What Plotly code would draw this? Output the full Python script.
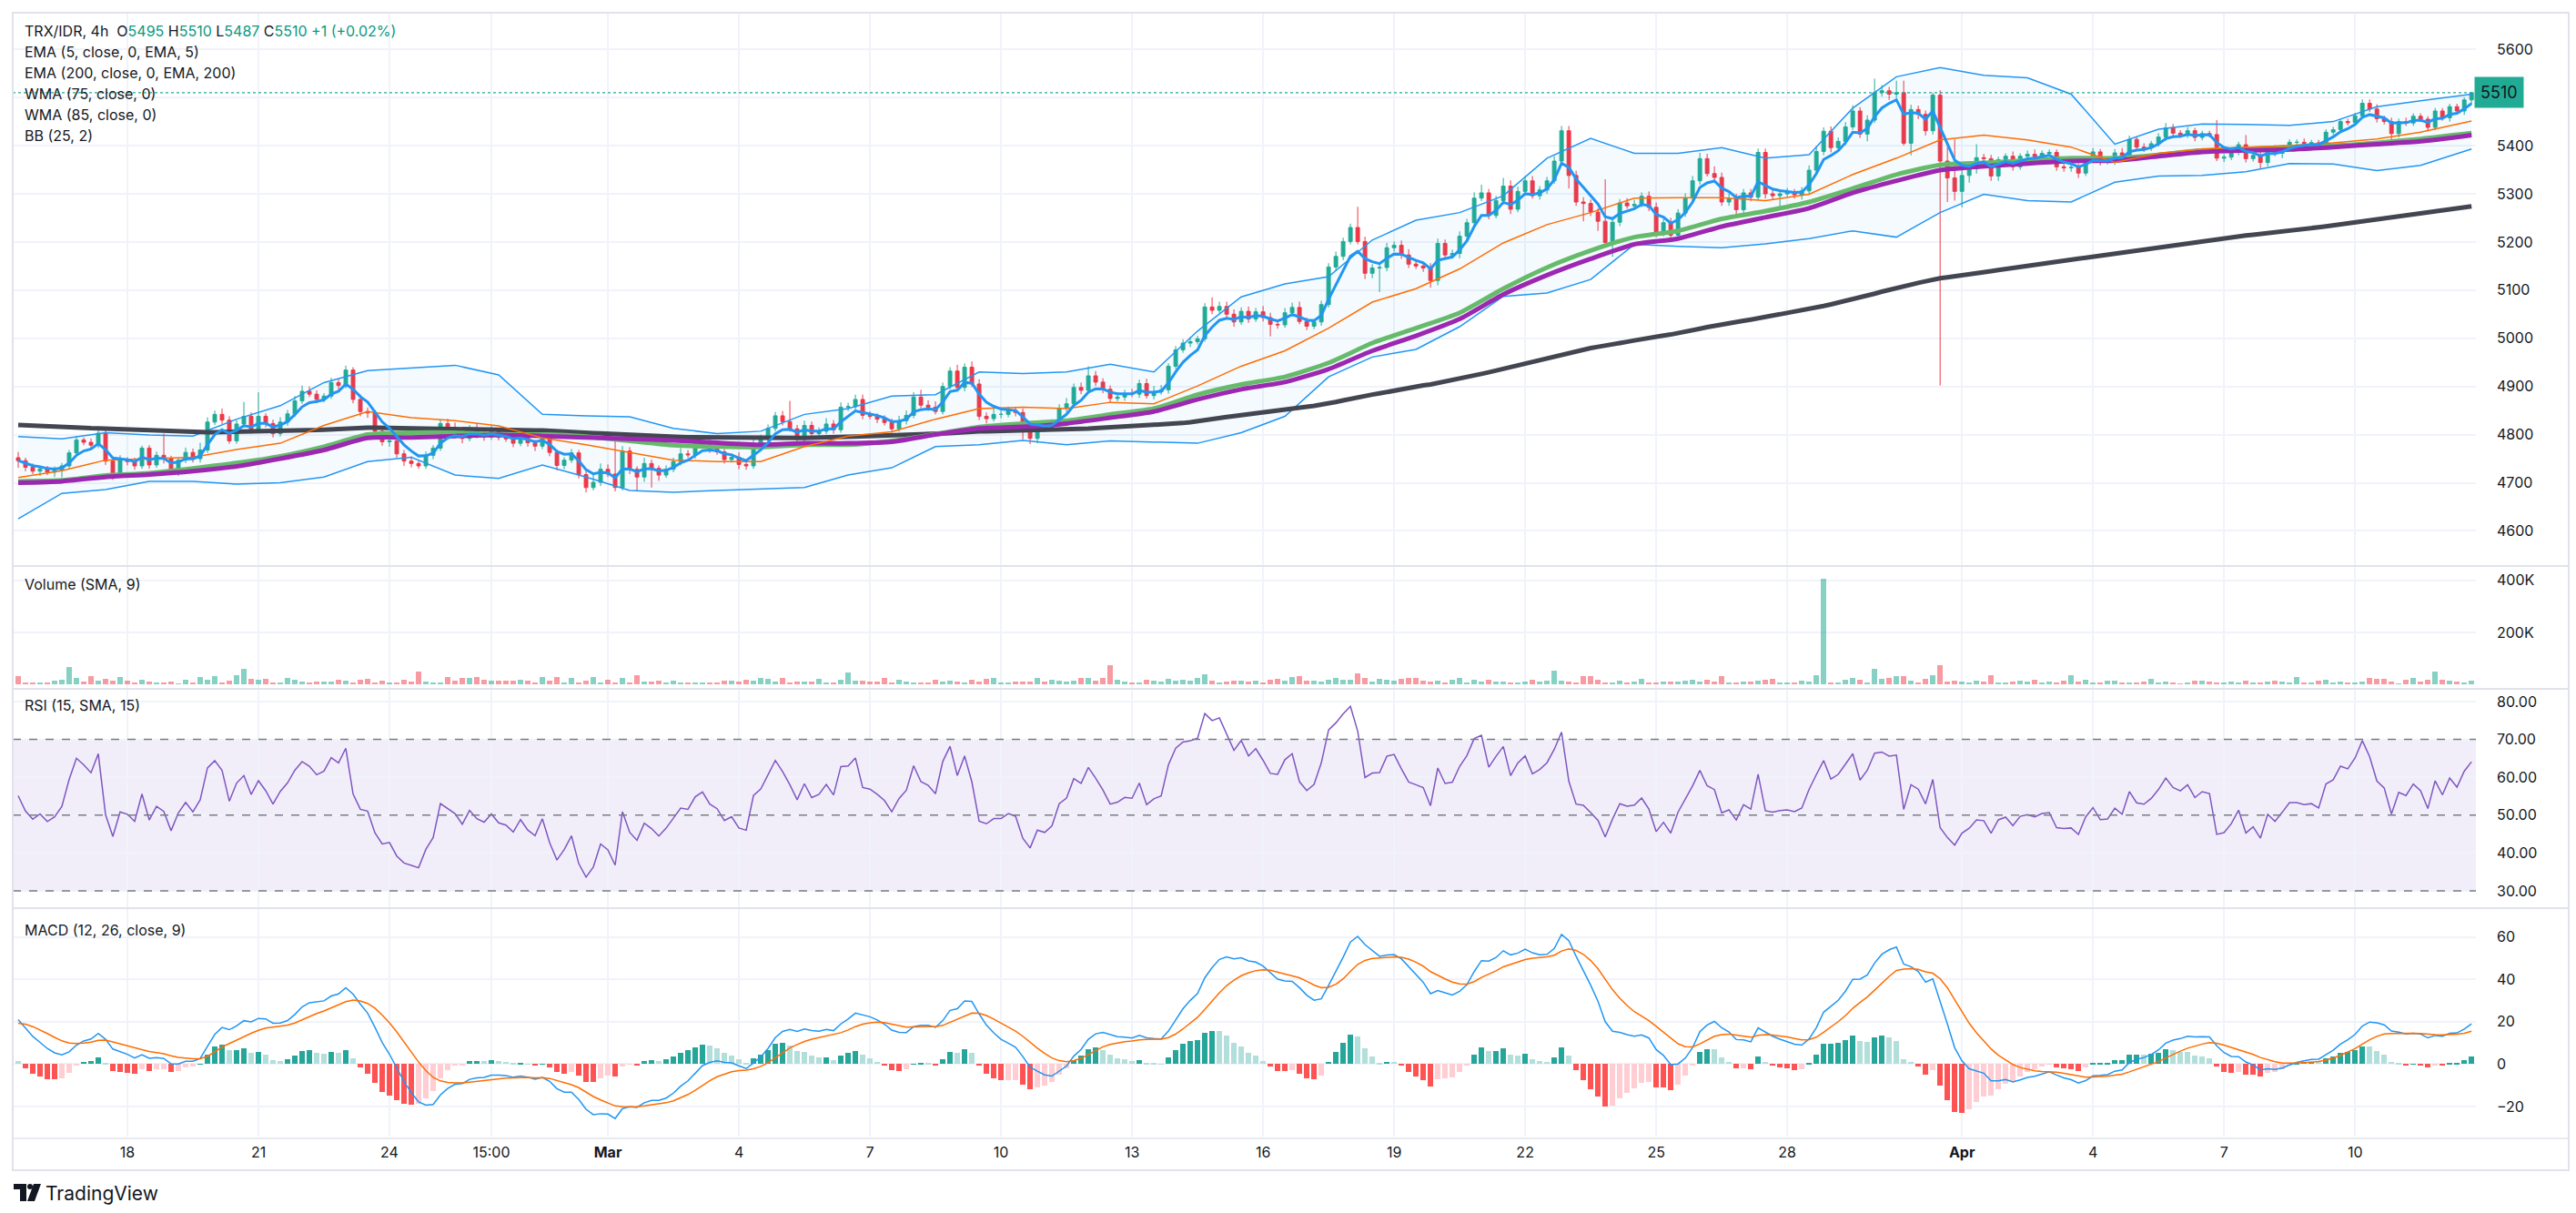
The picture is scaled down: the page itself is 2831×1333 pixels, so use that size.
import numpy as np
import plotly.graph_objects as go

# ---------------- values ----------------
TICK_IDX = [15, 33, 51, 65, 81, 99, 117, 135, 153, 171, 189, 207, 225, 243, 267, 285, 303, 321]
TICK_TEXT = ["18", "21", "24", "15:00", "<b>Mar</b>", "4", "7", "10", "13", "16",
             "19", "22", "25", "28", "<b>Apr</b>", "4", "7", "10"]
PRICE_TICKS = [4600, 4700, 4800, 4900, 5000, 5100, 5200, 5300, 5400, 5500, 5600]
PRICE_TICK_TEXT = ["4600", "4700", "4800", "4900", "5000", "5100", "5200", "5300", "5400", "", "5600"]

OPEN_FIRST = 4752
CLOSE = [
    4746, 4732, 4724, 4729, 4722, 4726, 4735, 4762, 4789, 4784,
    4778, 4803, 4745, 4716, 4747, 4744, 4735, 4772, 4737, 4757,
    4750, 4722, 4747, 4763, 4750, 4768, 4826, 4842, 4830, 4787,
    4822, 4838, 4810, 4838, 4823, 4802, 4826, 4843, 4870, 4890,
    4884, 4873, 4880, 4908, 4902, 4934, 4873, 4848, 4845, 4807,
    4785, 4787, 4760, 4745, 4740, 4735, 4757, 4772, 4823, 4815,
    4808, 4792, 4812, 4800, 4795, 4806, 4794, 4791, 4782, 4796,
    4783, 4776, 4794, 4763, 4736, 4747, 4762, 4717, 4690, 4701,
    4728, 4718, 4690, 4766, 4728, 4712, 4740, 4730, 4716, 4728,
    4744, 4760, 4758, 4778, 4786, 4770, 4764, 4748, 4753, 4738,
    4735, 4780, 4790, 4813, 4839, 4827, 4812, 4794, 4819, 4802,
    4807, 4822, 4810, 4857, 4858, 4873, 4840, 4838, 4832, 4825,
    4812, 4829, 4840, 4878, 4861, 4857, 4848, 4900, 4932, 4898,
    4940, 4905, 4838, 4833, 4842, 4842, 4850, 4846, 4810, 4792,
    4817, 4813, 4822, 4855, 4864, 4898, 4892, 4922, 4909, 4894,
    4875, 4878, 4885, 4884, 4906, 4881, 4889, 4893, 4942, 4976,
    4990, 4993, 4999, 5065, 5058, 5066, 5050, 5034, 5056, 5040,
    5055, 5043, 5029, 5028, 5053, 5064, 5035, 5025, 5034, 5070,
    5148, 5170, 5201, 5230, 5201, 5135, 5146, 5147, 5188, 5193,
    5173, 5154, 5150, 5146, 5120, 5197, 5173, 5176, 5212, 5240,
    5291, 5302, 5255, 5286, 5316, 5268, 5305, 5327, 5296, 5308,
    5327, 5368, 5431, 5338, 5283, 5280, 5262, 5243, 5199, 5241,
    5281, 5275, 5278, 5295, 5272, 5220, 5240, 5214, 5260, 5291,
    5327, 5373, 5342, 5334, 5283, 5290, 5267, 5302, 5293, 5386,
    5300, 5296, 5300, 5302, 5298, 5306, 5349, 5388, 5430, 5396,
    5409, 5439, 5472, 5424, 5453, 5510, 5514, 5507, 5510, 5405,
    5475, 5465, 5431, 5505, 5368, 5333, 5305, 5338, 5352, 5375,
    5373, 5337, 5371, 5378, 5356, 5378, 5382, 5377, 5384, 5386,
    5356, 5354, 5355, 5343, 5371, 5387, 5367, 5368, 5385, 5376,
    5413, 5397, 5395, 5404, 5418, 5437, 5426, 5422, 5431, 5417,
    5425, 5423, 5374, 5376, 5386, 5402, 5373, 5380, 5365, 5393,
    5384, 5395, 5407, 5407, 5405, 5406, 5402, 5428, 5433, 5450,
    5448, 5462, 5488, 5476, 5456, 5450, 5425, 5450, 5447, 5461,
    5455, 5438, 5472, 5458, 5481, 5472, 5495, 5510,
]
UPPER_WICK = [
    12, 6, 8, 5, 6, 8, 6, 6, 8, 5,  8, 6, 6, 8, 10, 6, 8, 5, 6, 8,
    45, 6, 5, 10, 8, 15, 10, 8, 12, 8,  8, 30, 8, 50, 6, 8, 10, 8, 10, 12,
    10, 8, 6, 10, 8, 9, 6, 10, 8, 6,  6, 10, 6, 8, 10, 6, 8, 6, 8, 10,
    10, 8, 8, 12, 8, 12, 8, 10, 6, 8,  8, 6, 10, 8, 6, 6, 8, 6, 8, 20,
    12, 10, 73, 10, 8, 6, 12, 8, 6, 8,  8, 12, 8, 10, 8, 10, 8, 6, 8, 10,
    6, 15, 10, 8, 8, 10, 43, 8, 10, 8,  8, 12, 8, 10, 8, 10, 10, 8, 6, 8,
    8, 10, 10, 10, 15, 10, 12, 8, 8, 13,  8, 12, 10, 8, 12, 8, 8, 6, 8, 8,
    8, 8, 10, 8, 12, 8, 10, 20, 10, 8,  8, 10, 8, 10, 8, 10, 12, 10, 6, 8,
    8, 10, 6, 8, 20, 10, 10, 10, 8, 10,  8, 12, 10, 10, 10, 10, 12, 8, 6, 8,
    8, 10, 8, 8, 43, 10, 8, 10, 10, 8,  10, 12, 10, 8, 10, 10, 8, 8, 10, 8,
    12, 17, 8, 10, 17, 12, 10, 10, 10, 8,  8, 10, 10, 10, 10, 10, 8, 8, 87, 10,
    8, 10, 10, 8, 10, 10, 8, 10, 8, 10,  10, 12, 10, 15, 10, 10, 10, 8, 8, 8,
    8, 10, 8, 10, 8, 8, 10, 10, 8, 10,  8, 10, 12, 8, 10, 29, 12, 8, 25, 25,
    10, 8, 8, 5, 10, 30, 80, 12, 10, 28,  8, 8, 6, 6, 10, 6, 8, 10, 6, 6,
    6, 8, 8, 8, 6, 8, 6, 8, 8, 10,  8, 6, 8, 6, 8, 10, 8, 6, 8, 6,
    6, 6, 30, 6, 8, 6, 20, 6, 8, 6,  8, 6, 6, 6, 8, 6, 6, 6, 6, 6,
    6, 6, 8, 8, 10, 6, 8, 6, 8, 6,  6, 6, 6, 6, 6, 6, 5, 0,
]
LOWER_WICK = [
    15, 8, 6, 10, 6, 10, 15, 6, 6, 6,  8, 6, 8, 10, 6, 8, 8, 6, 8, 6,
    10, 6, 8, 6, 8, 8, 6, 6, 8, 6,  6, 8, 8, 6, 8, 8, 6, 8, 6, 6,
    6, 8, 6, 6, 8, 6, 8, 10, 10, 8,  8, 10, 8, 10, 8, 6, 6, 8, 6, 8,
    6, 10, 6, 8, 8, 6, 6, 6, 8, 6,  8, 10, 6, 8, 10, 8, 6, 8, 10, 6,
    8, 6, 8, 6, 10, 30, 10, 40, 12, 6,  6, 8, 6, 8, 6, 8, 6, 8, 6, 10,
    8, 6, 6, 8, 6, 8, 6, 8, 8, 6,  8, 6, 8, 6, 8, 6, 8, 6, 8, 6,
    8, 6, 8, 6, 6, 8, 6, 6, 6, 6,  8, 6, 8, 10, 6, 8, 6, 8, 20, 12,
    10, 8, 6, 6, 8, 6, 8, 6, 8, 8,  8, 6, 8, 6, 8, 6, 8, 6, 8, 6,
    6, 8, 6, 6, 8, 6, 8, 10, 6, 8,  6, 8, 25, 8, 6, 8, 6, 8, 6, 8,
    6, 8, 8, 6, 6, 12, 10, 50, 8, 8,  8, 8, 6, 8, 15, 10, 6, 8, 10, 8,
    8, 6, 8, 6, 8, 10, 6, 8, 6, 8,  8, 6, 8, 27, 8, 37, 8, 20, 4, 30,
    8, 6, 8, 6, 8, 10, 8, 8, 8, 8,  6, 8, 6, 8, 8, 8, 10, 8, 8, 6,
    10, 8, 30, 6, 8, 10, 8, 6, 8, 10,  8, 8, 6, 8, 15, 6, 8, 12, 8, 5,
    25, 10, 10, 8, 466, 50, 19, 33, 15, 10,  8, 10, 10, 6, 8, 6, 6, 8, 6, 6,
    8, 8, 8, 10, 6, 6, 8, 6, 8, 6,  8, 6, 8, 6, 6, 8, 6, 6, 6, 8,
    6, 6, 6, 8, 6, 6, 8, 6, 13, 8,  6, 10, 6, 6, 6, 6, 6, 6, 6, 6,
    6, 6, 6, 6, 8, 6, 13, 8, 6, 6,  6, 8, 6, 6, 8, 6, 8, 8,
]
VOLUME_K = [
    30, 6, 6, 6, 6, 13, 17, 68, 23, 9,  30, 15, 20, 13, 27, 13, 6, 16, 9, 6,
    6, 9, 2, 16, 6, 27, 16, 30, 6, 13,  34, 58, 20, 16, 20, 6, 6, 23, 16, 9,
    6, 9, 9, 9, 16, 13, 6, 16, 20, 6,  13, 6, 6, 16, 9, 48, 9, 6, 6, 27,
    13, 23, 23, 27, 16, 13, 13, 13, 13, 16,  13, 6, 27, 13, 27, 6, 23, 6, 13, 27,
    6, 16, 6, 23, 6, 34, 9, 9, 13, 6,  13, 6, 6, 6, 6, 6, 6, 13, 13, 9,
    16, 13, 23, 20, 9, 23, 6, 9, 9, 9,  20, 6, 6, 16, 44, 13, 13, 9, 9, 23,
    6, 16, 9, 6, 6, 6, 16, 9, 13, 9,  6, 16, 9, 20, 23, 6, 6, 9, 9, 9,
    23, 9, 16, 13, 9, 13, 23, 23, 13, 23,  72, 16, 9, 6, 6, 16, 13, 9, 20, 13,
    16, 13, 23, 37, 13, 6, 9, 13, 13, 9,  13, 6, 16,
    20, 13, 27, 30, 13, 13, 9, 16, 23, 16,  16, 41, 23, 9, 20, 16, 13, 20, 23, 23,
    13, 9, 13, 6, 16, 23, 6, 16, 9, 16,  9, 9, 6, 6, 9, 16, 9, 13, 52, 13,
    9, 6, 30, 30, 16, 6, 6, 13, 6, 9,  20, 6, 6, 9, 9, 9, 13, 16, 9, 16,
    9, 30, 6, 6, 9, 9, 13, 16, 20, 6,  6, 6, 13, 9, 34, 405, 6, 6, 16, 23,
    16, 6, 58, 20, 23, 30, 30, 13, 6, 20,  34, 72, 9, 13, 9, 6, 13, 9, 34, 6,
    6, 9, 13, 9, 16, 6, 9, 6, 13, 34,  9, 16, 6, 6, 13, 13, 6, 6, 6, 9,
    20, 6, 9, 6, 2, 6, 13, 13, 9, 6,  6, 9, 6, 13, 6, 6, 9, 13, 9, 6,
    27, 6, 6, 13, 16, 6, 9, 6, 6, 9,  23, 20, 20, 9, 2, 16, 23, 9, 16, 48,
    16, 13, 9, 6, 13,
]

# indicator lines read once per day (bar index of each sample)
SAMPLE_IDX = [0, 6, 12, 18, 24, 30, 36, 42, 48, 54, 60, 66, 72, 78, 84, 90, 96, 102, 108, 114,
              120, 126, 132, 138, 144, 150, 156, 162, 168, 174, 180, 186, 192, 198, 204, 210,
              216, 222, 228, 234, 240, 246, 252, 258, 264, 270, 276, 282, 288, 294, 300, 306,
              312, 318, 324, 330, 337]
BB_UPPER = [4796, 4791, 4804, 4799, 4797, 4832, 4860, 4908, 4933, 4939, 4944, 4924, 4842, 4839,
            4837, 4813, 4802, 4807, 4842, 4854, 4880, 4883, 4930, 4927, 4930, 4946, 4930, 5015,
            5086, 5113, 5128, 5204, 5245, 5261, 5296, 5374, 5415, 5384, 5384, 5396, 5374, 5381,
            5478, 5543, 5562, 5546, 5541, 5507, 5403, 5434, 5445, 5444, 5442, 5450, 5481, 5493, 5507]
BB_BASIS = [4711, 4725, 4747, 4750, 4753, 4769, 4782, 4819, 4848, 4835, 4829, 4818, 4793, 4779,
            4763, 4747, 4744, 4744, 4775, 4797, 4806, 4832, 4854, 4857, 4854, 4867, 4864, 4901,
            4942, 4974, 5021, 5075, 5103, 5144, 5198, 5236, 5261, 5291, 5292, 5292, 5286, 5299,
            5340, 5374, 5412, 5422, 5412, 5397, 5365, 5384, 5393, 5397, 5400, 5406, 5414, 5428, 5451]
BB_LOWER = [4625, 4678, 4686, 4703, 4703, 4697, 4700, 4712, 4744, 4753, 4716, 4709, 4737, 4712,
            4684, 4680, 4684, 4687, 4690, 4716, 4731, 4775, 4779, 4788, 4779, 4787, 4785, 4782,
            4804, 4838, 4920, 4961, 4977, 5024, 5087, 5094, 5122, 5195, 5191, 5188, 5196, 5207,
            5223, 5210, 5261, 5299, 5286, 5283, 5324, 5337, 5338, 5346, 5363, 5362, 5348, 5359, 5393]
WMA75 = [4703, 4705, 4715, 4720, 4730, 4741, 4755, 4775, 4800, 4804, 4804, 4800, 4800, 4796,
         4787, 4778, 4775, 4774, 4779, 4779, 4787, 4801, 4816, 4823, 4829, 4842, 4854, 4883,
         4904, 4920, 4949, 4990, 5021, 5053, 5103, 5147, 5182, 5210, 5223, 5248, 5264, 5283,
         5311, 5340, 5360, 5364, 5369, 5374, 5374, 5381, 5390, 5393, 5397, 5400, 5406, 5414, 5426]
WMA85 = [4700, 4703, 4712, 4717, 4724, 4734, 4750, 4768, 4793, 4794, 4797, 4799, 4797, 4794,
         4791, 4788, 4783, 4779, 4782, 4782, 4785, 4800, 4813, 4816, 4823, 4835, 4848, 4873,
         4894, 4909, 4936, 4974, 5005, 5040, 5091, 5131, 5165, 5195, 5207, 5232, 5251, 5270,
         5302, 5327, 5349, 5357, 5363, 5368, 5369, 5378, 5387, 5390, 5392, 5397, 5403, 5409, 5422]

# starting states of the recursive indicators, read at the left edge
EMA200_START = 4820
EMA12_START, EMA26_START, SIGNAL_START = 4762, 4741, 19.3
RSI_GAIN_START, RSI_LOSS_START = 7.0, 5.7

# ---------------- derived series ----------------
c = np.array(CLOSE, float)
o = np.array([OPEN_FIRST] + CLOSE[:-1], float)   # each 4h candle opens at the prior close
h = np.maximum(o, c) + np.array(UPPER_WICK, float)
l = np.minimum(o, c) - np.array(LOWER_WICK, float)
n = len(c)
idx = np.arange(n)


def ema(src, length, start):
    a = 2.0 / (length + 1)
    out = np.empty(len(src))
    prev = start
    for i, v in enumerate(src):
        if i > 0:
            prev = prev + a * (v - prev)
        out[i] = prev
    return out


ema5 = ema(c, 5, c[0])
ema200 = ema(c, 200, EMA200_START)
macd = ema(c, 12, EMA12_START) - ema(c, 26, EMA26_START)
signal = ema(macd, 9, SIGNAL_START)
hist = macd - signal

rsi = np.empty(n)
ag, al = RSI_GAIN_START, RSI_LOSS_START
for i in range(n):
    if i > 0:
        d = c[i] - c[i - 1]
        ag = (ag * 14 + max(d, 0)) / 15
        al = (al * 14 + max(-d, 0)) / 15
    rsi[i] = 100 - 100 / (1 + ag / al)

GREEN, RED = "#22AB94", "#F23645"
vol_colors = ["rgba(34,171,148,0.55)" if c[i] >= o[i] else "rgba(242,54,69,0.5)" for i in range(n)]
hist_colors = []
for i in range(n):
    prev = hist[i - 1] if i > 0 else hist[i]
    if hist[i] >= 0:
        hist_colors.append("#26A69A" if hist[i] > prev else "#B2DFDB")
    else:
        hist_colors.append("#FF5252" if hist[i] < prev else "#FFCDD2")

# ---------------- figure ----------------
W, H = 2831, 1333
L, R, T, B = 14, 2721, 14, 1249
def PX(x): return (x - L) / (R - L)
def PY(y): return (B - y) / (B - T)

TXT = "#131722"
GRID = "#f0f3fa"
FONT = "Inter, Roboto, sans-serif"

fig = go.Figure()
# Bollinger band fill + lines
fig.add_trace(go.Scatter(x=SAMPLE_IDX, y=BB_UPPER, mode="lines", line=dict(color="#2196F3", width=1.5),
                         xaxis="x", yaxis="y", hoverinfo="skip"))
fig.add_trace(go.Scatter(x=SAMPLE_IDX, y=BB_LOWER, mode="lines", line=dict(color="#2196F3", width=1.5),
                         fill="tonexty", fillcolor="rgba(33,150,243,0.05)", xaxis="x", yaxis="y", hoverinfo="skip"))
fig.add_trace(go.Candlestick(x=idx, open=o, high=h, low=l, close=c,
                             increasing=dict(line=dict(color=GREEN, width=1), fillcolor=GREEN),
                             decreasing=dict(line=dict(color=RED, width=1), fillcolor=RED),
                             whiskerwidth=0, xaxis="x", yaxis="y"))
fig.add_trace(go.Scatter(x=idx, y=ema200, mode="lines", line=dict(color="#434651", width=5), xaxis="x", yaxis="y"))
fig.add_trace(go.Scatter(x=SAMPLE_IDX, y=WMA75, mode="lines", line=dict(color="#66BB6A", width=5, shape="spline", smoothing=0.6),
                         xaxis="x", yaxis="y"))
fig.add_trace(go.Scatter(x=SAMPLE_IDX, y=WMA85, mode="lines", line=dict(color="#9C27B0", width=5, shape="spline", smoothing=0.6),
                         xaxis="x", yaxis="y"))
fig.add_trace(go.Scatter(x=SAMPLE_IDX, y=BB_BASIS, mode="lines", line=dict(color="#FF6D00", width=1.5),
                         xaxis="x", yaxis="y"))
fig.add_trace(go.Scatter(x=idx, y=ema5, mode="lines", line=dict(color="#2196F3", width=3), xaxis="x", yaxis="y"))

# volume
fig.add_trace(go.Bar(x=idx, y=np.array(VOLUME_K) * 1000, marker=dict(color=vol_colors, line=dict(width=0)),
                     width=0.72, xaxis="x2", yaxis="y2"))
# RSI
fig.add_trace(go.Scatter(x=idx, y=rsi, mode="lines", line=dict(color="#7E57C2", width=1.5), xaxis="x3", yaxis="y3"))
# MACD
fig.add_trace(go.Bar(x=idx, y=hist, marker=dict(color=hist_colors, line=dict(width=0)), width=0.72,
                     xaxis="x4", yaxis="y4"))
fig.add_trace(go.Scatter(x=idx, y=macd, mode="lines", line=dict(color="#2196F3", width=1.5), xaxis="x4", yaxis="y4"))
fig.add_trace(go.Scatter(x=idx, y=signal, mode="lines", line=dict(color="#FF6D00", width=1.5), xaxis="x4", yaxis="y4"))

xcommon = dict(range=[-0.75, 337.6], tickvals=TICK_IDX, showgrid=True, gridcolor=GRID, gridwidth=1.5,
               zeroline=False, showline=False, ticks="", fixedrange=True)
ycommon = dict(side="right", showgrid=True, gridcolor=GRID, gridwidth=1.5, zeroline=False, showline=False,
               ticks="", ticklabelstandoff=22, tickfont=dict(size=16, color=TXT, family=FONT), fixedrange=True)

fig.update_layout(
    width=W, height=H, margin=dict(l=L, r=W - R, t=T, b=H - B),
    paper_bgcolor="white", plot_bgcolor="white", showlegend=False, bargap=0,
    font=dict(family=FONT, color=TXT, size=16),
    xaxis=dict(**xcommon, anchor="y", showticklabels=False, rangeslider=dict(visible=False)),
    xaxis2=dict(**xcommon, anchor="y2", showticklabels=False),
    xaxis3=dict(**xcommon, anchor="y3", showticklabels=False),
    xaxis4=dict(**xcommon, anchor="y4", ticktext=TICK_TEXT, tickfont=dict(size=16, color=TXT, family=FONT),
                ticklabelstandoff=6),
    yaxis=dict(**ycommon, domain=[PY(621), 1.0], range=[4529, 5676], tickvals=PRICE_TICKS,
               ticktext=PRICE_TICK_TEXT),
    yaxis2=dict(**ycommon, domain=[PY(756), PY(623)], range=[-14000, 452000],
                tickvals=[200000, 400000], ticktext=["200K", "400K"]),
    yaxis3=dict(**ycommon, domain=[PY(997), PY(758)], range=[25.7, 83.1],
                tickvals=[30, 40, 50, 60, 70, 80], ticktext=["30.00", "40.00", "50.00", "60.00", "70.00", "80.00"]),
    yaxis4=dict(**ycommon, domain=[0, PY(999)], range=[-34.1, 73.1],
                tickvals=[-20, 0, 20, 40, 60], ticktext=["\u221220", "0", "20", "40", "60"]),
)

shapes = []
# RSI band and dashed levels
shapes.append(dict(type="rect", xref="x3 domain", yref="y3", x0=0, x1=1, y0=30, y1=70,
                   fillcolor="rgba(126,87,194,0.1)", line=dict(width=0), layer="below"))
for lvl in (30, 50, 70):
    shapes.append(dict(type="line", xref="x3 domain", yref="y3", x0=0, x1=1, y0=lvl, y1=lvl,
                       line=dict(color="#787B86", width=1.5, dash="dash")))
# last price dotted line
shapes.append(dict(type="line", xref="x domain", yref="y", x0=0, x1=1, y0=5510, y1=5510,
                   line=dict(color=GREEN, width=1.2, dash="dot")))
# pane separators and frame
for ysep in (622, 757, 998):
    shapes.append(dict(type="line", xref="paper", yref="paper", x0=PX(14), x1=PX(2823), y0=PY(ysep), y1=PY(ysep),
                       line=dict(color="#e0e3eb", width=2)))
shapes.append(dict(type="rect", xref="paper", yref="paper", x0=PX(14), x1=PX(2823), y0=PY(1286), y1=PY(14),
                   line=dict(color="#e0e3eb", width=2)))
shapes.append(dict(type="line", xref="paper", yref="paper", x0=PX(14), x1=PX(2823), y0=PY(1251), y1=PY(1251),
                   line=dict(color="#e0e3eb", width=1.5)))
# TradingView logo glyph (bottom-left)
LOGO = "#131722"
shapes.append(dict(type="rect", xref="paper", yref="paper", x0=PX(15), x1=PX(29), y0=PY(1307), y1=PY(1301),
                   fillcolor=LOGO, line=dict(width=0)))
shapes.append(dict(type="rect", xref="paper", yref="paper", x0=PX(22), x1=PX(29), y0=PY(1320), y1=PY(1301),
                   fillcolor=LOGO, line=dict(width=0)))
shapes.append(dict(type="circle", xref="paper", yref="paper", x0=PX(30), x1=PX(36), y0=PY(1307), y1=PY(1301),
                   fillcolor=LOGO, line=dict(width=0)))
shapes.append(dict(type="path", xref="paper", yref="paper",
                   path="M {} {} L {} {} L {} {} L {} {} Z".format(PX(37), PY(1301), PX(45), PY(1301),
                                                                 PX(38), PY(1320), PX(30), PY(1320)),
                   fillcolor=LOGO, line=dict(width=0)))
fig.update_layout(shapes=shapes)

V = "<span style='color:#089981'>{}</span>"
header = [
    "TRX/IDR, 4h  O" + V.format("5495") + " H" + V.format("5510") + " L" + V.format("5487")
    + " C" + V.format("5510") + " " + V.format("+1 (+0.02%)"),
    "EMA (5, close, 0, EMA, 5)",
    "EMA (200, close, 0, EMA, 200)",
    "WMA (75, close, 0)",
    "WMA (85, close, 0)",
    "BB (25, 2)",
]
ann = []
for k, t in enumerate(header):
    ann.append(dict(xref="paper", yref="paper", x=PX(25), y=PY(34 + 23 * k), text=t, showarrow=False,
                    xanchor="left", yanchor="middle", font=dict(size=16, color=TXT, family=FONT)))
for t, yy in (("Volume (SMA, 9)", 642), ("RSI (15, SMA, 15)", 775), ("MACD (12, 26, close, 9)", 1022)):
    ann.append(dict(xref="paper", yref="paper", x=PX(25), y=PY(yy), text=t, showarrow=False,
                    xanchor="left", yanchor="middle", font=dict(size=16, color=TXT, family=FONT)))
ann.append(dict(xref="paper", yref="y", x=PX(2719), y=5510, text="5510", showarrow=False, xanchor="left",
                yanchor="middle", bgcolor=GREEN, borderpad=6, font=dict(size=18, color=TXT, family=FONT)))
ann.append(dict(xref="paper", yref="paper", x=PX(48), y=PY(1311), text="TradingView", showarrow=False,
                xanchor="left", yanchor="middle", font=dict(size=21, color="#131722", family=FONT)))
fig.update_layout(annotations=ann)

fig.write_html("out.html", config={"displayModeBar": False},
               post_script="document.body.style.margin='0';document.body.style.overflow='hidden';")
